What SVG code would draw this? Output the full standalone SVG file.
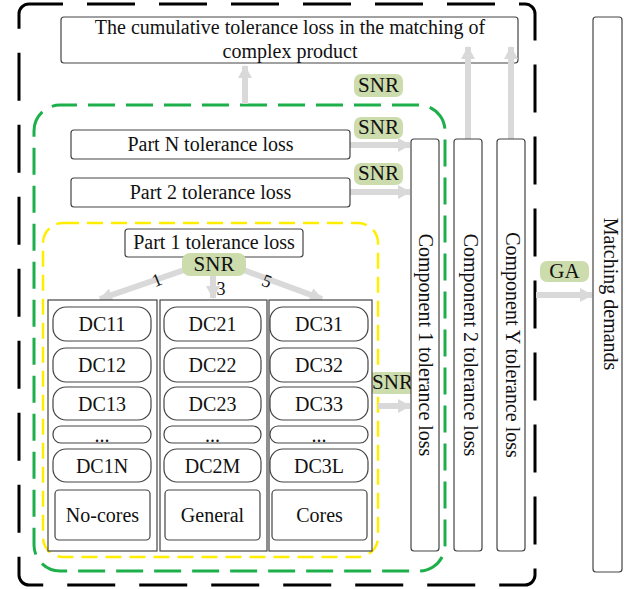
<svg xmlns="http://www.w3.org/2000/svg" width="633" height="589" viewBox="0 0 633 589" font-family="'Liberation Serif', 'DejaVu Serif', serif">
  <style>
    text { font-family: "Liberation Serif", "DejaVu Serif", serif; fill: #111; }
    .box { fill: #fff; stroke: #444; stroke-width: 1.2; }
    .pill { fill: #fff; stroke: #444; stroke-width: 1.2; }
    .tag { fill: #cddcad; stroke: none; }
    .arr { stroke: #d9d9d9; stroke-width: 6; fill: none; }
    .t18 { font-size: 20px; }
    .t17 { font-size: 20px; }
    .tg { font-size: 21px; }
    .tn { font-size: 18px; }
  </style>
  <defs>
    <marker id="head" markerUnits="userSpaceOnUse" markerWidth="16" markerHeight="16" refX="12" refY="8" orient="auto">
      <path d="M0,1 L13,8 L0,15 Z" fill="#d9d9d9"/>
    </marker>
  </defs>
  <rect width="633" height="589" fill="#fff"/>

  <!-- group frames -->
  <rect id="frame-outer" x="19" y="4" width="516" height="581" rx="10" fill="none" stroke="#000" stroke-width="3" stroke-dasharray="48 24" stroke-dashoffset="14"/>
  <rect id="frame-component" x="34" y="105" width="411" height="466" rx="26" fill="none" stroke="#1db04a" stroke-width="3" stroke-dasharray="27 11" stroke-dashoffset="10"/>
  <rect id="frame-part" x="43" y="223" width="335" height="334" rx="20" fill="none" stroke="#ffee00" stroke-width="2.5" stroke-dasharray="16 8"/>

  <!-- top: cumulative loss -->
  <g id="node-cumulative">
    <rect class="box" x="61" y="17" width="457" height="46" rx="3"/>
    <text class="t18" x="290" y="34" text-anchor="middle">The cumulative tolerance loss in the matching of</text>
    <text class="t18" x="290" y="58" text-anchor="middle">complex product</text>
  </g>

  <!-- connectors -->
  <g id="connectors">
    <line class="arr" x1="245" y1="104" x2="245" y2="66" marker-end="url(#head)"/>
    <line class="arr" x1="468" y1="139" x2="468" y2="47" marker-end="url(#head)"/>
    <line class="arr" x1="511" y1="139" x2="511" y2="47" marker-end="url(#head)"/>
    <line class="arr" x1="350" y1="145" x2="410" y2="145" marker-end="url(#head)"/>
    <line class="arr" x1="350" y1="192" x2="410" y2="192" marker-end="url(#head)"/>
    <line class="arr" x1="378" y1="406" x2="410" y2="406" marker-end="url(#head)"/>
    <line class="arr" x1="536" y1="295" x2="592" y2="295" marker-end="url(#head)"/>
    <line class="arr" x1="190" y1="268" x2="100" y2="299" marker-end="url(#head)"/>
    <line class="arr" x1="213" y1="274" x2="213" y2="298" marker-end="url(#head)"/>
    <line class="arr" x1="238" y1="268" x2="322" y2="299" marker-end="url(#head)"/>
    <text class="tn" x="157" y="286" text-anchor="middle" transform="rotate(-22 157 280)">1</text>
    <text class="tn" x="221" y="295" text-anchor="middle">3</text>
    <text class="tn" x="267" y="287" text-anchor="middle" transform="rotate(22 267 281)">5</text>
  </g>

  <!-- SNR / GA tags -->
  <g id="tag-snr-top"><rect class="tag" x="354" y="74" width="49" height="23" rx="7"/><text class="tg" x="378.5" y="92" text-anchor="middle">SNR</text></g>
  <g id="tag-snr-n"><rect class="tag" x="354" y="117" width="49" height="22" rx="7"/><text class="tg" x="378.5" y="134" text-anchor="middle">SNR</text></g>
  <g id="tag-snr-2"><rect class="tag" x="354" y="163" width="49" height="22" rx="7"/><text class="tg" x="378.5" y="180" text-anchor="middle">SNR</text></g>
  <g id="tag-snr-c1"><rect class="tag" x="368" y="372" width="49" height="22" rx="7"/><text class="tg" x="392.5" y="389" text-anchor="middle">SNR</text></g>
  <g id="tag-ga"><rect class="tag" x="540" y="261" width="49" height="21" rx="7"/><text class="tg" x="564.5" y="278" text-anchor="middle">GA</text></g>

  <!-- parts -->
  <g id="node-part-n">
    <rect class="box" x="71" y="130" width="279" height="29" rx="3"/>
    <text class="t17" x="210.5" y="151" text-anchor="middle">Part N tolerance loss</text>
  </g>
  <g id="node-part-2">
    <rect class="box" x="71" y="178" width="279" height="29" rx="3"/>
    <text class="t17" x="210.5" y="199" text-anchor="middle">Part 2 tolerance loss</text>
  </g>
  <g id="node-part-1">
    <rect class="box" x="125" y="229" width="178" height="28" rx="3"/>
    <text class="t17" x="214" y="249" text-anchor="middle">Part 1 tolerance loss</text>
  </g>
  <g id="tag-snr-part1"><rect class="tag" x="182" y="253" width="64" height="23" rx="8"/><text class="tg" x="214" y="271" text-anchor="middle">SNR</text></g>

  <!-- components -->
  <g id="node-component-1">
    <rect class="box" x="411" y="139" width="28" height="412" rx="3"/>
    <text class="t18" transform="translate(419 345) rotate(90)" text-anchor="middle">Component 1 tolerance loss</text>
  </g>
  <g id="node-component-2">
    <rect class="box" x="454" y="139" width="28" height="412" rx="3"/>
    <text class="t18" transform="translate(464 345) rotate(90)" text-anchor="middle">Component 2 tolerance loss</text>
  </g>
  <g id="node-component-y">
    <rect class="box" x="497" y="139" width="28" height="412" rx="3"/>
    <text class="t18" transform="translate(506 345) rotate(90)" text-anchor="middle">Component Y tolerance loss</text>
  </g>
  <g id="node-matching">
    <rect class="box" x="593" y="17" width="29" height="555" rx="3"/>
    <text class="t18" transform="translate(604 294) rotate(90)" text-anchor="middle">Matching demands</text>
  </g>

  <!-- column 1: no-cores -->
  <g id="col-nocores">
    <rect class="box" x="48" y="300" width="109" height="251" rx="0"/>
    <rect class="pill" x="53" y="307" width="98" height="34" rx="13"/><text class="t18" x="102" y="331" text-anchor="middle">DC11</text>
    <rect class="pill" x="53" y="348" width="98" height="34" rx="13"/><text class="t18" x="102" y="372" text-anchor="middle">DC12</text>
    <rect class="pill" x="53" y="387" width="98" height="33" rx="13"/><text class="t18" x="102" y="411" text-anchor="middle">DC13</text>
    <rect class="pill" x="53" y="426" width="98" height="17" rx="8"/><text class="t18" x="102" y="442" text-anchor="middle">...</text>
    <rect class="pill" x="53" y="449" width="98" height="33" rx="13"/><text class="t18" x="102" y="473" text-anchor="middle">DC1N</text>
    <rect class="box" x="55" y="490" width="95" height="50" rx="4"/><text class="t18" x="102.5" y="522" text-anchor="middle">No-cores</text>
  </g>
  <!-- column 2: general -->
  <g id="col-general">
    <rect class="box" x="160" y="300" width="107" height="251" rx="0"/>
    <rect class="pill" x="164" y="307" width="97" height="34" rx="13"/><text class="t18" x="212.5" y="331" text-anchor="middle">DC21</text>
    <rect class="pill" x="164" y="348" width="97" height="34" rx="13"/><text class="t18" x="212.5" y="372" text-anchor="middle">DC22</text>
    <rect class="pill" x="164" y="387" width="97" height="33" rx="13"/><text class="t18" x="212.5" y="411" text-anchor="middle">DC23</text>
    <rect class="pill" x="164" y="426" width="97" height="17" rx="8"/><text class="t18" x="212.5" y="442" text-anchor="middle">...</text>
    <rect class="pill" x="164" y="449" width="97" height="33" rx="13"/><text class="t18" x="212.5" y="473" text-anchor="middle">DC2M</text>
    <rect class="box" x="165" y="490" width="95" height="50" rx="4"/><text class="t18" x="212.5" y="522" text-anchor="middle">General</text>
  </g>
  <!-- column 3: cores -->
  <g id="col-cores">
    <rect class="box" x="269" y="300" width="103" height="251" rx="0"/>
    <rect class="pill" x="270" y="307" width="98" height="34" rx="13"/><text class="t18" x="319" y="331" text-anchor="middle">DC31</text>
    <rect class="pill" x="270" y="348" width="98" height="34" rx="13"/><text class="t18" x="319" y="372" text-anchor="middle">DC32</text>
    <rect class="pill" x="270" y="387" width="98" height="33" rx="13"/><text class="t18" x="319" y="411" text-anchor="middle">DC33</text>
    <rect class="pill" x="270" y="426" width="98" height="17" rx="8"/><text class="t18" x="319" y="442" text-anchor="middle">...</text>
    <rect class="pill" x="270" y="449" width="98" height="33" rx="13"/><text class="t18" x="319" y="473" text-anchor="middle">DC3L</text>
    <rect class="box" x="272" y="490" width="95" height="50" rx="4"/><text class="t18" x="319.5" y="522" text-anchor="middle">Cores</text>
  </g>
</svg>
